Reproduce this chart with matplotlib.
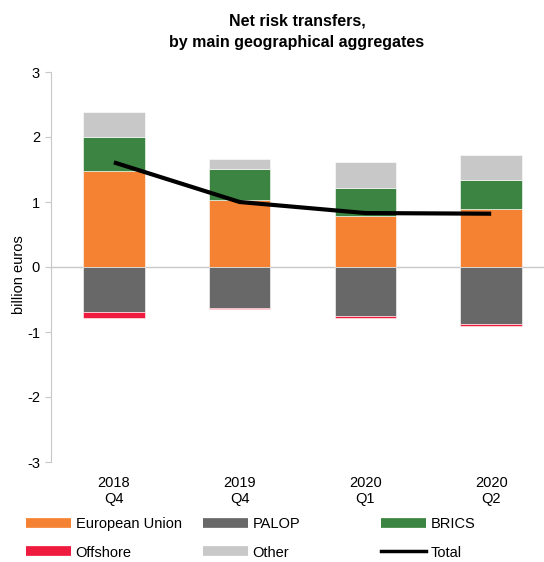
import matplotlib
matplotlib.use("Agg")
import matplotlib.pyplot as plt
import numpy as np
from matplotlib.lines import Line2D

plt.rcParams['font.family'] = ['Liberation Sans', 'DejaVu Sans']

categories = ["2018\nQ4", "2019\nQ4", "2020\nQ1", "2020\nQ2"]
eu = [1.47, 1.03, 0.79, 0.90]
brics = [0.53, 0.48, 0.42, 0.44]
other = [0.38, 0.15, 0.41, 0.39]
palop = [-0.69, -0.63, -0.75, -0.87]
offshore = [-0.09, -0.02, -0.03, -0.03]
total = [1.61, 1.00, 0.83, 0.82]

c_eu = "#F58233"
c_palop = "#686868"
c_brics = "#3C8441"
c_off = "#EF1B3F"
c_other = "#C8C8C8"

fig = plt.figure(figsize=(5.44, 5.62), dpi=100)
ax = fig.add_axes([51/544, 1 - 462/562, (544 - 51)/544, (462 - 72)/562])

x = np.arange(len(categories))
w = 0.49
ekw = dict(edgecolor="white", linewidth=0.4)
ax.bar(x, eu, w, color=c_eu, **ekw)
ax.bar(x, brics, w, bottom=eu, color=c_brics, **ekw)
ax.bar(x, other, w, bottom=np.add(eu, brics), color=c_other, **ekw)
ax.bar(x, palop, w, color=c_palop, **ekw)
ax.bar(x, offshore, w, bottom=palop, color=c_off, **ekw)
ax.plot(x, total, color="black", linewidth=3, solid_capstyle="butt")

ax.axhline(0, color="#C8C8C8", linewidth=1, zorder=0.5)
ax.set_ylim(-3, 3)
ax.set_xlim(-0.5, 3.42)
ax.set_yticks([-3, -2, -1, 0, 1, 2, 3])
ax.set_yticklabels(["-3", "-2", "-1", "0", "1", "2", "3"])
ax.set_xticks(x)
ax.set_xticklabels(categories)
for s in ["top", "right", "bottom"]:
    ax.spines[s].set_visible(False)
ax.spines["left"].set_color("#C8C8C8")
ax.tick_params(axis="y", colors="#C8C8C8", labelcolor="black", labelsize=10.5, length=4, pad=4, direction="out")
ax.tick_params(axis="x", length=0, labelsize=10.5, pad=10)
ax.set_ylabel("billion euros", fontsize=10.5)
ax.yaxis.set_label_coords(-0.051, 0.48)

fig.text(297/544, 1 - 32/562, "Net risk transfers,\nby main geographical aggregates",
         ha="center", va="center", fontsize=11.5, fontweight="bold", linespacing=1.55)

def h(c):
    return Line2D([0], [0], color=c, linewidth=7, solid_capstyle="butt")

cols = [
    (26, [(h(c_eu), "European Union"), (h(c_off), "Offshore")]),
    (203, [(h(c_palop), "PALOP"), (h(c_other), "Other")]),
    (381, [(h(c_brics), "BRICS"),
           (Line2D([0], [0], color="black", linewidth=2.5), "Total")]),
]
for xp, items in cols:
    fig.legend(handles=[i[0] for i in items], labels=[i[1] for i in items],
               loc="upper left", bbox_to_anchor=(xp/544, 1 - 517/562),
               frameon=False, fontsize=10.5, handlelength=3.1, handletextpad=0.3,
               labelspacing=1.0, borderpad=0, borderaxespad=0)

fig.savefig("out.png", dpi=100)
